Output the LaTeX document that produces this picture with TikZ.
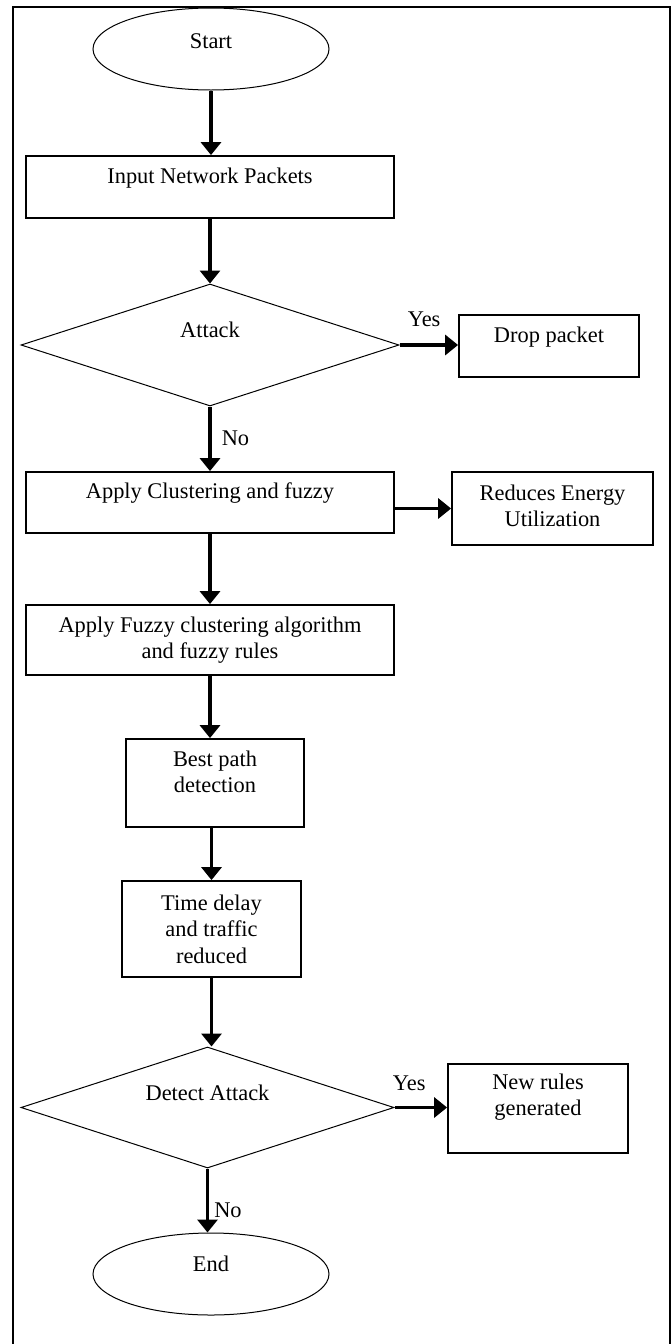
\documentclass[tikz,border=0pt]{standalone}
\usepackage{fontspec}
\setmainfont{Liberation Serif}
\usetikzlibrary{shapes.geometric,arrows.meta,positioning}

\begin{document}
\begin{tikzpicture}[x=0.5pt, y=-0.5pt,
    font=\fontsize{11.2}{13.2}\selectfont,
    box/.style = {draw, line width=0.9pt, inner sep=0pt},
    term/.style = {draw, ellipse, line width=0.5pt, inner sep=0pt},
    decision/.style = {draw, diamond, line width=0.5pt, inner sep=0pt},
    txt/.style = {align=center, inner sep=0pt},
    flow/.style = {-{Triangle[width=10pt, length=6.5pt]}, line width=1.8pt}
]
    \useasboundingbox (0,0) rectangle (672,1344);
    % outer frame, cut at the bottom
    \draw[line width=1pt] (13,1360) |- (670,7) -- (670,1360);

    % shapes
    \node[term, minimum width=118pt, minimum height=41pt] (start) at (211,49) {};
    \node[box, minimum width=184pt, minimum height=31pt] (input) at (210,187) {};
    \node[decision, minimum width=189pt, minimum height=61pt] (attack) at (210,345) {};
    \node[box, minimum width=90pt, minimum height=31pt] (drop) at (549,346) {};
    \node[box, minimum width=184pt, minimum height=30.5pt] (clust) at (210,502.5) {};
    \node[box, minimum width=100.5pt, minimum height=36.5pt] (reduce) at (552.5,508.5) {};
    \node[box, minimum width=184pt, minimum height=35pt] (fuzzy) at (210,640) {};
    \node[box, minimum width=89pt, minimum height=44pt] (best) at (215,783) {};
    \node[box, minimum width=89.5pt, minimum height=48pt] (delay) at (211.5,929) {};
    \node[decision, minimum width=186.5pt, minimum height=60.5pt] (detect) at (207.5,1107.5) {};
    \node[box, minimum width=90pt, minimum height=44.5pt] (rules) at (538,1108.5) {};
    \node[term, minimum width=118pt, minimum height=41pt] (end) at (211,1274) {};

    % texts, set high in their shapes
    \node[txt] (start text) at ([yshift=4pt]start.center) {Start};
    \node[txt] (input text) at ([yshift=4.5pt]input.center) {Input Network Packets};
    \node[txt] (attack text) at ([yshift=7.5pt]attack.center) {Attack};
    \node[txt] (drop text) at ([yshift=4.5pt]drop.center) {Drop packet};
    \node[txt] (clust text) at ([yshift=4.75pt]clust.center) {Apply Clustering and fuzzy};
    \node[txt] (reduce text) at ([yshift=1.25pt]reduce.center) {Reduces Energy\\Utilization};
    \node[txt] (fuzzy text) at (fuzzy.center) {Apply Fuzzy clustering algorithm\\and fuzzy rules};
    \node[txt] (best text) at ([yshift=5.5pt]best.center) {Best path\\detection};
    \node[txt] (delay text) at (delay.center) {Time delay\\and traffic\\reduced};
    \node[txt] (detect text) at ([yshift=7.25pt]detect.center) {Detect Attack};
    \node[txt] (rules text) at ([yshift=5.75pt]rules.center) {New rules\\generated};
    \node[txt] (end text) at ([yshift=5pt]end.center) {End};

    % connectors
    \draw[flow] (start.south) -- (start.south |- input.north);
    \draw[flow] (input.south) -- (input.south |- attack.north);
    \draw[flow] (attack.east) -- node[txt, pos=0.42, above=8.3pt] (yes attack) {Yes} (attack.east -| drop.west);
    \draw[flow] (attack.south) -- node[txt, pos=0.49, right=5pt] (no attack) {No} (attack.south |- clust.north);
    \draw[flow] (clust.east |- reduce.west) -- (reduce.west);
    \draw[flow] (clust.south) -- (clust.south |- fuzzy.north);
    \draw[flow] (fuzzy.south) -- (fuzzy.south |- best.north);
    \draw[flow] (delay.north |- best.south) -- (delay.north);
    \draw[flow] (delay.south) -- (delay.south |- detect.north);
    \draw[flow] (detect.east) -- node[txt, pos=0.28, above=7.3pt] (yes detect) {Yes} (detect.east -| rules.west);
    \draw[flow] (detect.south) -- node[txt, pos=0.65, right=2.5pt] (no detect) {No} (detect.south |- end.north);
\end{tikzpicture}
\end{document}
